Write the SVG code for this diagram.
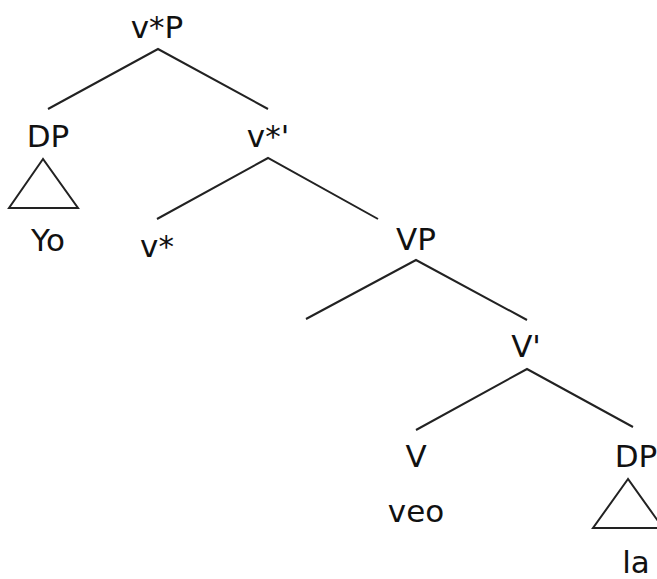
<svg xmlns="http://www.w3.org/2000/svg" width="657" height="579" viewBox="0 0 657 579">
<style>
text{font-family:"DejaVu Sans",sans-serif;font-size:31px;fill:#111;text-anchor:middle}
.e{stroke:#222;stroke-width:2;fill:none}
</style>
<rect width="657" height="579" fill="#fff"/>
<g id="connectors">
<polyline class="e" points="48,109 158,49 268,109"/>
<polyline class="e" points="157,219 268,158 378,219"/>
<polyline class="e" points="306,319 416,260 527,320"/>
<polyline class="e" points="416,430 527,369 633,427"/>
<polygon class="e" points="43,159 9,208 78,208"/>
<polygon class="e" points="628,479 593,528 663,528"/>
</g>
<g id="vP"><text x="157" y="38">v*P</text></g>
<g id="DP1"><text x="48" y="147">DP</text></g>
<g id="Yo"><text x="48" y="251">Yo</text></g>
<g id="vbar"><text x="268" y="147">v*'</text></g>
<g id="v"><text x="157" y="257">v*</text></g>
<g id="VP"><text x="416" y="250">VP</text></g>
<g id="Vbar"><text x="526" y="357">V'</text></g>
<g id="V"><text x="416" y="467">V</text></g>
<g id="veo"><text x="416" y="522">veo</text></g>
<g id="DP2"><text x="636" y="467">DP</text></g>
<g id="la"><text x="636" y="573">la</text></g>
</svg>
